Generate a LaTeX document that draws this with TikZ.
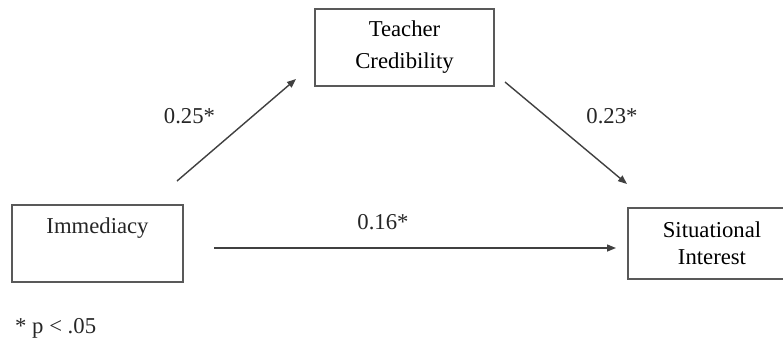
\documentclass[tikz,border=0pt]{standalone}
\usepackage{fontspec}
\setmainfont{Liberation Serif}
\usetikzlibrary{arrows.meta}
\begin{document}
\begin{tikzpicture}[x=1pt,y=-1pt,
  box/.style={draw=black!65, line width=1.6pt, inner sep=0pt, align=center,
    font=\fontsize{22.7}{32}\selectfont},
  lbl/.style={anchor=base, inner sep=0pt, font=\fontsize{22.7}{27}\selectfont, text=black!85},
  conn/.style={draw=black!75, line width=1.4pt, -{Triangle[length=9pt,width=7pt]}}]
\useasboundingbox (0,0) rectangle (783,341);
\node[box, minimum width=179pt, minimum height=77pt] (tc) at (404.5,47.5) {Teacher\\Credibility};
\node[box, minimum width=171pt, minimum height=77pt] (imm) at (97.5,243.5) {};
\node[lbl] (immtext) at (97.5,233) {Immediacy};
\node[box, minimum width=168pt, minimum height=71pt, font=\fontsize{22.7}{27}\selectfont] (si) at (712,243.5) {Situational\\Interest};
\coordinate (a1) at (177,181);
\coordinate (a2) at (296,79);
\coordinate (b1) at (505,82);
\coordinate (b2) at (627,184);
\coordinate (c1) at (214,248);
\coordinate (c2) at (616,248);
\draw[conn] (a1) -- (a2);
\draw[conn] (b1) -- (b2);
\draw[conn] (c1) -- (c2);
\node[lbl] (l1) at (189.5,123) {0.25*};
\node[lbl] (l2) at (612,123) {0.23*};
\node[lbl] (l3) at (383,229) {0.16*};
\node[lbl, anchor=base west] (note) at (15,333) {* p < .05};
\end{tikzpicture}
\end{document}
